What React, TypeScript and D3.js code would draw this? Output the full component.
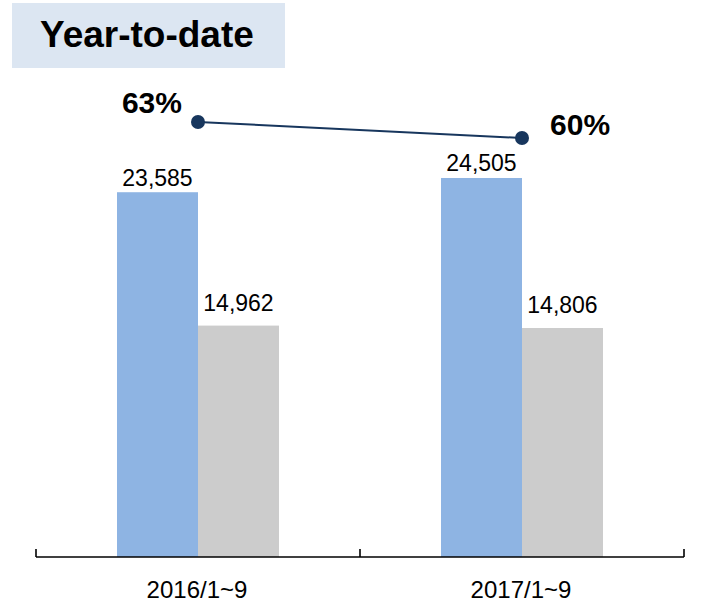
import React from "react";
import * as d3 from "d3";

const categories = ["2016/1~9", "2017/1~9"];
const seriesNames = ["a", "b"];
const seriesA = [23585, 24505];
const seriesB = [14962, 14806];
const ratio = [63, 60];
const title = "Year-to-date";

const W = 702;
const H = 606;
const FONT = "Arial, 'Liberation Sans', sans-serif";
const COLORS = ["#8eb4e3", "#cccccc"];
const LINE_COLOR = "#17365d";

export default function App() {
  const x = d3.scaleBand<string>().domain(categories).range([36, 684]).paddingInner(0).paddingOuter(0);
  const x1 = d3.scaleBand<string>().domain(seriesNames).range([0, x.bandwidth()]).paddingInner(0).paddingOuter(1);
  const y = d3.scaleLinear().domain([0, 30000]).range([557, 93]);
  const y2 = d3.scaleLinear().domain([50, 70]).range([191.3, 84.7]);

  const values = [seriesA, seriesB];
  const labelGap = [6.5, 15];

  const linePts: [number, number][] = ratio.map((v, i) => [x(categories[i])! + x.bandwidth() / 2, y2(v)]);
  const line = d3.line();
  const ratioLabelPlace = [
    { dx: -16, dy: -9, anchor: "end" },
    { dx: 28, dy: -3, anchor: "start" },
  ];

  const edges = [...categories.map((c) => x(c)!), x(categories[categories.length - 1])! + x.bandwidth()];

  return (
    <div style={{ position: "absolute", left: 0, top: 0 }}>
      <svg width={W} height={H} style={{ display: "block", background: "#fff" }}>
        <rect x={12} y={3} width={273} height={65} fill="#dce6f2" />
        <text x={40} y={47} fontFamily={FONT} fontWeight="bold" fontSize={37} fill="#000">
          {title}
        </text>

        {values.map((arr, s) =>
          arr.map((v, i) => {
            const bx = x(categories[i])! + x1(seriesNames[s])!;
            return (
              <g key={`${s}-${i}`}>
                <rect x={bx} y={y(v)} width={x1.bandwidth()} height={y(0) - y(v)} fill={COLORS[s]} />
                <text
                  x={bx + x1.bandwidth() / 2}
                  y={y(v) - labelGap[s]}
                  textAnchor="middle"
                  fontFamily={FONT}
                  fontSize={23}
                  fill="#000"
                >
                  {d3.format(",")(v)}
                </text>
              </g>
            );
          })
        )}

        <line x1={edges[0]} x2={edges[edges.length - 1]} y1={557} y2={557} stroke="#000" strokeWidth={1.6} />
        {edges.map((e, i) => (
          <line key={i} x1={e} x2={e} y1={549} y2={557} stroke="#000" strokeWidth={1.6} />
        ))}
        {categories.map((c) => (
          <text
            key={c}
            x={x(c)! + x.bandwidth() / 2 - 1}
            y={598}
            textAnchor="middle"
            fontFamily={FONT}
            fontSize={24}
            fill="#000"
          >
            {c}
          </text>
        ))}

        <path d={line(linePts) || ""} fill="none" stroke={LINE_COLOR} strokeWidth={2} />
        {linePts.map((p, i) => (
          <g key={i}>
            <circle cx={p[0]} cy={p[1]} r={7} fill={LINE_COLOR} />
            <text
              x={p[0] + ratioLabelPlace[i].dx}
              y={p[1] + ratioLabelPlace[i].dy}
              textAnchor={ratioLabelPlace[i].anchor as any}
              fontFamily={FONT}
              fontWeight="bold"
              fontSize={30}
              fill="#000"
            >
              {ratio[i]}%
            </text>
          </g>
        ))}
      </svg>
    </div>
  );
}
